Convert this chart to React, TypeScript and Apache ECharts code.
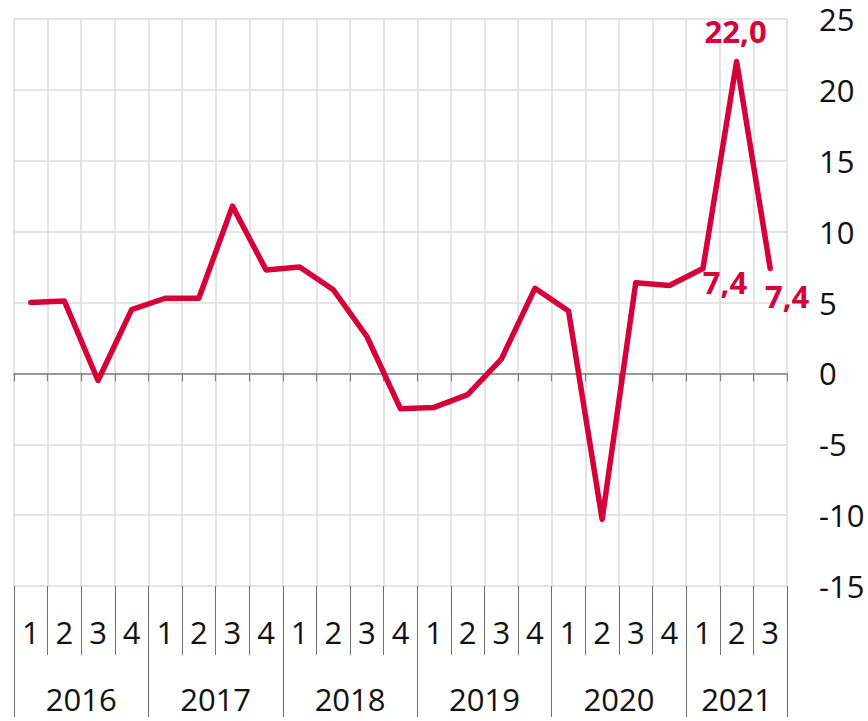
import React, { useEffect, useRef } from 'react';
import * as echarts from 'echarts';

const years = ['2016', '2017', '2018', '2019', '2020', '2021'];
const quartersPerYear = [4, 4, 4, 4, 4, 3];
const quarterNumbers = ['1', '2', '3', '4', '1', '2', '3', '4', '1', '2', '3', '4', '1', '2', '3', '4', '1', '2', '3', '4', '1', '2', '3'];
const growth = [5.0, 5.1, -0.5, 4.5, 5.3, 5.3, 11.8, 7.3, 7.5, 5.9, 2.6, -2.5, -2.4, -1.5, 1.0, 6.0, 4.4, -10.3, 6.4, 6.2, 7.4, 22.0, 7.4];
const yMin = -15;
const yMax = 25;
const yStep = 5;
const labelledIndices = [20, 21, 22];

const RED = '#d6003a';
const FONT = '"Open Sans", "Noto Sans", sans-serif';

export default function App() {
  const ref = useRef<HTMLDivElement>(null);
  useEffect(() => {
    if (!ref.current) return;
    const chart = echarts.init(ref.current, undefined, { renderer: 'svg' });

    const yearOfIdx: string[] = [];
    years.forEach((y, i) => {
      for (let k = 0; k < quartersPerYear[i]; k++) yearOfIdx.push(y);
    });
    const categories = quarterNumbers.map((q, i) => `${yearOfIdx[i]}-Q${q}`);

    const nQ = quarterNumbers.length;
    const halfKeys = Array.from({ length: 2 * nQ + 1 }, (_, k) => 'h' + k);
    const boundarySet = new Set<number>([0]);
    const centerMap: Record<number, string> = {};
    let cum = 0;
    years.forEach((y, i) => {
      const start = cum;
      cum += quartersPerYear[i];
      boundarySet.add(cum * 2);
      centerMap[start + cum] = y;
    });

    const labelOffsets: Record<number, [number, number]> = {
      20: [22, 14],
      21: [-1, -31],
      22: [17, 28],
    };

    const seriesData = growth.map((v, i) =>
      labelledIndices.includes(i)
        ? {
            value: v,
            label: {
              show: true,
              position: 'inside',
              offset: labelOffsets[i],
            },
          }
        : v
    );

    chart.setOption({
      animation: false,
      grid: { left: 14, right: 81, top: 19, bottom: 135, containLabel: false },
      xAxis: [
        {
          type: 'category',
          data: categories,
          boundaryGap: true,
          position: 'bottom',
          axisLine: { show: true, onZero: true, lineStyle: { color: '#7f7f7f', width: 1.5 } },
          axisTick: { show: true, interval: 0, length: 8, lineStyle: { color: '#7f7f7f', width: 1.2 } },
          axisLabel: { show: false },
          splitLine: { show: true, interval: 0, lineStyle: { color: '#dddddd', width: 1.5 } },
        },
        {
          type: 'category',
          data: categories,
          boundaryGap: true,
          position: 'bottom',
          axisLine: { show: false, onZero: false },
          axisTick: { show: true, interval: 0, length: 69, lineStyle: { color: '#6e6e6e', width: 1 } },
          axisLabel: {
            show: true,
            interval: 0,
            margin: 30,
            fontSize: 31,
            fontFamily: FONT,
            color: '#111',
            formatter: (v: string) => v.split('-Q')[1],
          },
          splitLine: { show: false },
        },
        {
          type: 'category',
          data: halfKeys,
          boundaryGap: false,
          position: 'bottom',
          axisLine: { show: false, onZero: false },
          axisTick: {
            show: true,
            length: 131,
            interval: (idx: number) => boundarySet.has(idx),
            lineStyle: { color: '#6e6e6e', width: 1 },
          },
          axisLabel: {
            show: true,
            interval: (idx: number) => centerMap[idx] !== undefined,
            margin: 97,
            fontSize: 31,
            fontFamily: FONT,
            color: '#111',
            formatter: (v: string) => centerMap[Number(v.slice(1))] || '',
          },
          splitLine: { show: false },
        },
      ],
      yAxis: {
        type: 'value',
        position: 'right',
        min: yMin,
        max: yMax,
        interval: yStep,
        axisLine: { show: false },
        axisTick: { show: false },
        axisLabel: {
          margin: 32,
          fontSize: 31,
          lineHeight: 30,
          fontFamily: FONT,
          color: '#111',
          align: 'left',
        },
        splitLine: { show: true, lineStyle: { color: '#dddddd', width: 1.5 } },
      },
      series: [
        {
          type: 'line',
          data: seriesData,
          xAxisIndex: 0,
          yAxisIndex: 0,
          symbol: 'circle',
          symbolSize: 1,
          showSymbol: true,
          showAllSymbol: true,
          itemStyle: { color: RED },
          lineStyle: { color: RED, width: 5.5, cap: 'round', join: 'round' },
          label: {
            fontSize: 31,
            fontWeight: 'bold',
            fontFamily: FONT,
            color: RED,
            formatter: (p: any) => Number(p.value).toFixed(1).replace('.', ','),
          },
          emphasis: { disabled: true },
        },
      ],
    });

    return () => chart.dispose();
  }, []);

  return (
    <div
      ref={ref}
      style={{ position: 'fixed', left: 0, top: 0, width: 868, height: 721, background: '#fff' }}
    />
  );
}
